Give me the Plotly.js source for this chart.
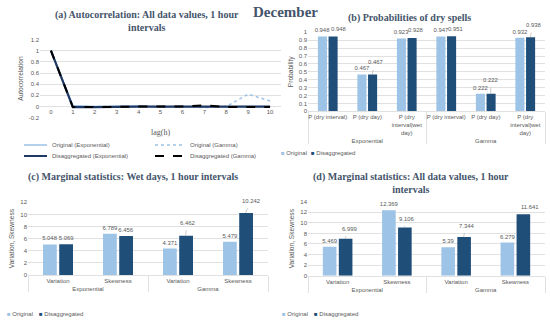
<!DOCTYPE html>
<html><head><meta charset="utf-8">
<script src="https://cdn.plot.ly/plotly-3.0.1.min.js"></script>
<style>html,body{margin:0;padding:0;background:#fff}#chart{width:550px;height:322px}</style>
</head><body><div id="chart"></div>
<script>
// ---- data ----
const lags = ['0','1','2','3','4','5','6','7','8','9','10'];
const acfOrigExp   = [1, 0.02, 0.0, 0.0, 0.01, -0.01, 0.0, -0.01, 0.0, 0.0, 0.0];
const acfOrigGamma = [1, 0.01, 0.0, 0.0, 0.0, -0.01, 0.0, -0.02, 0.0, 0.22, 0.1];
const acfDisExp    = [1, -0.01, -0.01, 0.0, 0.0, 0.0, 0.0, 0.01, 0.0, 0.0, 0.0];
const acfDisGamma  = [1, -0.01, -0.01, 0.0, 0.0, 0.0, 0.0, 0.02, -0.01, -0.01, -0.01];

const probGroups = ['Exponential','Exponential','Exponential','Gamma','Gamma','Gamma'];
const probCats = ['P (dry interval)','P (dry day)','P (dry<br>interval|wet<br>day)',
                  'P (dry interval)','P (dry day)','P (dry<br>interval|wet<br>day)'];
const probOrig = [0.948, 0.467, 0.923, 0.947, 0.222, 0.932];
const probDis  = [0.948, 0.467, 0.928, 0.951, 0.222, 0.938];

const statGroups = ['Exponential','Exponential','Gamma','Gamma'];
const statCats = ['Variation','Skewness','Variation','Skewness'];
const wetOrig = [5.048, 6.789, 4.371, 5.479];
const wetDis  = [5.069, 6.456, 6.462, 10.242];
const allOrig = [5.469, 12.369, 5.39, 6.279];
const allDis  = [6.999, 9.106, 7.344, 11.641];

const seriesNames = ['Original', 'Disaggregated'];

// ---- style config: disaggregated label offsets [dx, dy(px, up negative), leader line?] by point index ----
const leadB = {0:[6,-7,0], 1:[3,-12,1], 2:[4,-8,0], 3:[4,-7,0], 4:[0,-14,1], 5:[3,-12,1]};
const leadC = {2:[2,-13,1], 3:[5,-12,1]};
const leadD = {0:[4,-10,1], 1:[2,-9,1], 2:[3,-11,1], 3:[7,-7,1]};

const W = 550, H = 322;
const px = p => p / W;
const py = p => 1 - p / H;

const LIGHT = '#9DC3E6', DARK = '#1F4E79', GRID = '#D9D9D9', TXT = '#595959';
const TITLE_C = '#44546A';
const SANS = 'Liberation Sans, Arial, sans-serif';
const tickFont = {family: SANS, size: 6, color: TXT};
const labFont = {family: SANS, size: 5.9, color: TXT};

const traces = [];
// (a) autocorrelation
traces.push({type:'scatter', mode:'lines', x:lags, y:acfOrigExp, name:'Original (Exponential)',
  line:{color:LIGHT, width:1.5}, xaxis:'x', yaxis:'y', legend:'legend'});
traces.push({type:'scatter', mode:'lines', x:lags, y:acfOrigGamma, name:'Original (Gamma)',
  line:{color:LIGHT, width:1.5, dash:'dot'}, xaxis:'x', yaxis:'y', legend:'legend'});
traces.push({type:'scatter', mode:'lines', x:lags, y:acfDisExp, name:'Disaggregated (Exponential)',
  line:{color:'#1F3864', width:2.2}, xaxis:'x', yaxis:'y', legend:'legend2'});
traces.push({type:'scatter', mode:'lines', x:lags, y:acfDisGamma, name:'Disaggregated (Gamma)',
  line:{color:'#000000', width:2, dash:'dash'}, xaxis:'x', yaxis:'y', legend:'legend2'});

function swatch(color, name) {
  return '<span style="color:' + color + '">■</span> ' + name;
}
function barPair(groups, cats, orig, dis, lead, xa, ya, lgO, lgD) {
  const disText = dis.map((v, i) => lead[i] ? '' : String(v));
  traces.push({type:'bar', x:[groups, cats], y:orig, name:seriesNames[0], marker:{color:LIGHT},
    text: orig.map(String), textposition:'outside', textfont:labFont, constraintext:'none',
    cliponaxis:false, xaxis:xa, yaxis:ya, showlegend:false, hoverinfo:'y'});
  traces.push({type:'bar', x:[groups, cats], y:dis, name:seriesNames[1], marker:{color:DARK},
    text: disText, textposition:'outside', textfont:labFont, constraintext:'none',
    cliponaxis:false, xaxis:xa, yaxis:ya, showlegend:false, hoverinfo:'y'});
  // legend entries (compact square swatches drawn in the label)
  const hidden = {symbol:'square', size:0, color:'rgba(0,0,0,0)', line:{width:0}};
  traces.push({type:'scatter', mode:'markers', x:[null], y:[null], name:swatch(LIGHT, seriesNames[0]),
    marker:hidden, xaxis:'x', yaxis:'y', legend:lgO, hoverinfo:'skip'});
  traces.push({type:'scatter', mode:'markers', x:[null], y:[null], name:swatch(DARK, seriesNames[1]),
    marker:hidden, xaxis:'x', yaxis:'y', legend:lgD, hoverinfo:'skip'});
}
barPair(probGroups, probCats, probOrig, probDis, leadB, 'x2', 'y2', 'legend3', 'legend4');
barPair(statGroups, statCats, wetOrig, wetDis, leadC, 'x3', 'y3', 'legend5', 'legend6');
barPair(statGroups, statCats, allOrig, allDis, leadD, 'x4', 'y4', 'legend7', 'legend8');

const annotations = [];
function leaders(vals, lead, xa, ya) {
  vals.forEach((v, i) => {
    const o = lead[i];
    if (!o) return;
    if (o[2]) {
      annotations.push({xref:xa, yref:ya, x:i + 0.125, y:v, text:String(v), showarrow:true,
        arrowhead:0, arrowwidth:0.6, arrowcolor:'#A6A6A6', ax:o[0], ay:o[1],
        standoff:0, startstandoff:3, font:labFont});
    } else {
      annotations.push({xref:xa, yref:ya, x:i + 0.125, y:v, text:String(v), showarrow:false,
        xshift:o[0], yshift:-o[1], xanchor:'center', yanchor:'middle', font:labFont});
    }
  });
}
leaders(probDis, leadB, 'x2', 'y2');
leaders(wetDis, leadC, 'x3', 'y3');
leaders(allDis, leadD, 'x4', 'y4');

const titleFont = {family:'Liberation Serif, Times New Roman, serif', size:10, color:TITLE_C, weight:'bold'};
function title(text, x, y, size) {
  annotations.push({xref:'paper', yref:'paper', x:px(x), y:py(y), text:text, showarrow:false,
    xanchor:'center', yanchor:'middle', font:Object.assign({}, titleFont, size ? {size:size} : {})});
}
title('December', 285, 12, 15);
title('(a) Autocorrelation: All data values, 1 hour<br>intervals', 147, 21);
title('(b) Probabilities of dry spells', 409, 18);
title('(c) Marginal statistics: Wet days, 1 hour intervals', 133, 177);
title('(d) Marginal statistics: All data values, 1 hour<br>intervals', 411, 182.5);

function yax(domTop, domBot, range, dtick, titleText) {
  return {domain:[py(domBot), py(domTop)], range:range, dtick:dtick, showgrid:true, gridcolor:GRID,
    gridwidth:0.8, zeroline:false, showline:false, ticks:'', tickfont:tickFont, fixedrange:true,
    title:{text:titleText, font:{family:SANS, size:6.6, color:TXT}, standoff:4}};
}
function xmc(l, r, anchor, tl) {
  return {domain:[px(l), px(r)], type:'multicategory', anchor:anchor, showline:true, linecolor:GRID,
    linewidth:0.8, ticks:'outside', ticklen:tl, tickcolor:'rgba(0,0,0,0)', tickangle:0, tickfont:tickFont,
    showdividers:true, dividercolor:GRID, dividerwidth:0.8, showgrid:false, fixedrange:true};
}

const legBase = {orientation:'h', bgcolor:'rgba(0,0,0,0)', font:{family:SANS, size:6, color:TXT},
  yanchor:'middle', xanchor:'left', itemwidth:30, itemclick:false, itemdoubleclick:false, tracegroupgap:0};
const swLeg = (xText, yRow) => Object.assign({}, legBase, {x:px(xText - 25), y:py(yRow), indentation:-15});

const layout = {
  width:W, height:H, margin:{l:0, r:0, t:0, b:0, autoexpand:false},
  paper_bgcolor:'#ffffff', plot_bgcolor:'rgba(0,0,0,0)',
  bargap:0.46, bargroupgap:0.15, barmode:'group', showlegend:true,
  xaxis:{domain:[px(40), px(281)], type:'category', range:[-0.5, 10.5], anchor:'free', position:py(106.7),
    showgrid:false, zeroline:false, showline:false, ticks:'', tickfont:tickFont, fixedrange:true,
    title:{text:'lag(h)', font:{family:'Liberation Serif, Times New Roman, serif', size:8, color:TXT}, standoff:15}},
  yaxis:Object.assign(yax(39.5, 117.7, [-0.2, 1.2], 0.2, 'Autocorrelation'),
    {tickvals:[-0.2,0,0.2,0.4,0.6,0.8,1,1.2], ticktext:['-0.2','0','0.2','0.4','0.6','0.8','1','1.2']}),
  xaxis2:xmc(308, 545, 'y2', 4),
  yaxis2:Object.assign(yax(32.3, 111.3, [0, 1], 0.1, 'Probability'), {anchor:'x2'}),
  xaxis3:xmc(28, 268, 'y3', 7),
  yaxis3:Object.assign(yax(202.3, 275, [0, 12], 2, 'Variation, Skewness'), {anchor:'x3'}),
  xaxis4:xmc(308, 545, 'y4', 7),
  yaxis4:Object.assign(yax(201.7, 275.7, [0, 14], 2, 'Variation, Skewness'), {anchor:'x4'}),
  legend:Object.assign({}, legBase, {x:px(24), y:py(145), entrywidth:105, indentation:-12}),
  legend2:Object.assign({}, legBase, {x:px(24), y:py(156), entrywidth:105, indentation:-12}),
  legend3:swLeg(281, 153),
  legend4:swLeg(311, 153),
  legend5:swLeg(7, 314),
  legend6:swLeg(39, 314),
  legend7:swLeg(282, 314),
  legend8:swLeg(314, 314),
  annotations:annotations
};

Plotly.newPlot('chart', traces, layout, {staticPlot:true, displayModeBar:false});
</script></body></html>
